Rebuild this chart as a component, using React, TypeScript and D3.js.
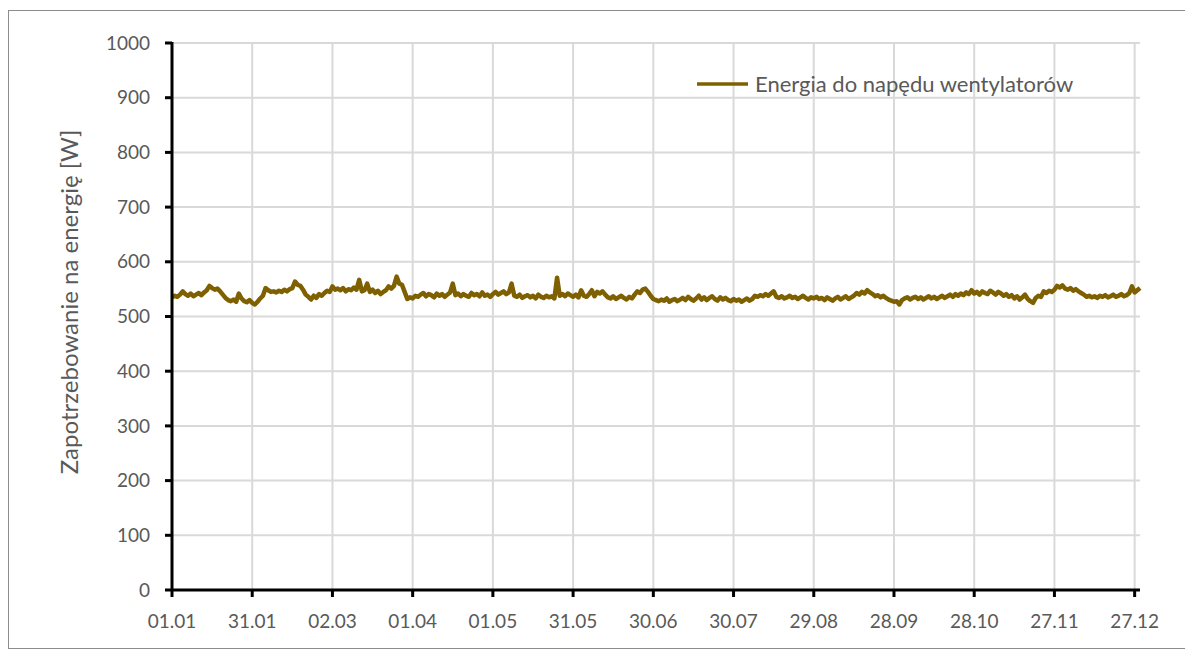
import React from "react";
import * as d3 from "d3";

const seriesName = "Energia do napędu wentylatorów";
const yTitle = "Zapotrzebowanie na energię [W]";
const xTickLabels = ["01.01", "31.01", "02.03", "01.04", "01.05", "31.05", "30.06", "30.07", "29.08", "28.09", "28.10", "27.11", "27.12"];
const xTickStep = 30;
const yTicks = [0, 100, 200, 300, 400, 500, 600, 700, 800, 900, 1000];

// daily fan energy demand [W], 01.01 .. 29.12
const dailyValues = [
  535, 538, 536, 540, 546, 541, 538, 542, 537, 540, 543, 539, 544, 548, 556, 552, 549, 551, 546, 540,
  534, 530, 528, 531, 527, 542, 533, 528, 526, 530, 525, 522, 527, 533, 538, 552, 548, 545, 546, 544,
  547, 545, 549, 546, 550, 552, 564, 558, 556, 549, 540, 536, 531, 538, 534, 541, 538, 543, 547, 545,
  555, 549, 551, 548, 552, 546, 550, 548, 553, 549, 567, 546, 548, 560, 545, 549, 543, 547, 541, 545,
  548, 555, 551, 556, 573, 560, 558, 545, 532, 535, 533, 538, 536, 540, 543, 537, 541, 539, 535, 542,
  538, 541, 536, 540, 544, 560, 539, 542, 537, 541, 538, 536, 543, 539, 541, 537, 544, 538, 540, 536,
  541, 545, 540, 543, 546, 541, 544, 560, 538, 536, 540, 534, 537, 539, 535, 538, 533, 540, 536, 534,
  538, 535, 537, 533, 571, 538, 541, 537, 542, 539, 536, 540, 535, 548, 538, 536, 541, 548, 537, 545,
  542, 546, 540, 535, 533, 537, 532, 535, 538, 534, 531, 536, 533, 540, 546, 543, 549, 551, 545, 538,
  532, 530, 528, 531, 529, 533, 527, 530, 532, 528, 531, 534, 530, 536, 532, 529, 533, 538, 531, 535,
  530, 534, 537, 532, 529, 535, 531, 534, 530, 528, 532, 529, 531, 527, 530, 533, 529, 532, 538, 536,
  539, 537, 541, 538, 542, 546, 536, 534, 537, 533, 535, 538, 534, 536, 532, 535, 538, 534, 531, 535,
  533, 536, 532, 534, 530, 535, 532, 529, 533, 536, 531, 534, 537, 532, 535, 538, 543, 540, 545, 542,
  548, 544, 541, 537, 539, 535, 538, 534, 531, 529, 527, 528, 522, 530, 533, 535, 531, 534, 536, 532,
  535, 531, 534, 537, 533, 536, 532, 535, 538, 534, 537, 540, 536, 541, 538, 542, 539, 544, 541, 548,
  542, 545, 540, 546, 543, 541, 547, 544, 540, 545, 542, 538, 541, 536, 539, 533, 537, 531, 535, 540,
  532, 528, 525, 534, 538, 536, 546, 543, 547, 545, 549, 556, 553, 557, 551, 549, 552, 547, 550, 546,
  543, 540, 536, 538, 535, 537, 534, 538, 536, 539, 535, 537, 540, 536, 538, 541, 537, 539, 543, 555,
  544, 548, 552,
];

const W = 1185;
const H = 653;
const left = 172;
const right = 1140;
const top = 43;
const bottom = 590;
const font = "Lato, 'Open Sans', sans-serif";
const textColor = "#595959";
const gridColor = "#d9d9d9";
const lineColor = "#7f6000";

export default function App() {
  const x = d3.scaleLinear().domain([0, dailyValues.length - 1]).range([left, right]);
  const y = d3.scaleLinear().domain([0, 1000]).range([bottom, top]);
  const line = d3
    .line<number>()
    .x((_, i) => x(i))
    .y((v) => y(v))
    .curve(d3.curveLinear);
  const path = line(dailyValues) || "";

  return (
    <svg width={W} height={H} style={{ position: "absolute", left: 0, top: 0 }}>
      <rect x={0} y={0} width={W} height={H} fill="#fff" />
      <rect x={8.5} y={10.5} width={1190} height={638} fill="#fff" stroke="#8c8c8c" strokeWidth={1} />
      {yTicks.map((t) => (
        <line key={"hg" + t} x1={left} x2={right} y1={y(t)} y2={y(t)} stroke={gridColor} strokeWidth={2} />
      ))}
      {xTickLabels.map((l, i) => (
        <line key={"vg" + l} x1={x(i * xTickStep)} x2={x(i * xTickStep)} y1={top} y2={bottom} stroke={gridColor} strokeWidth={2} />
      ))}
      <path d={path} fill="none" stroke={lineColor} strokeWidth={4.5} strokeLinejoin="round" />
      <line x1={left} x2={left} y1={top - 1} y2={bottom + 1} stroke="#000" strokeWidth={3} />
      <line x1={left - 1} x2={right} y1={bottom} y2={bottom} stroke="#000" strokeWidth={3} />
      {yTicks.map((t) => (
        <g key={"yt" + t}>
          <line x1={left - 7} x2={left} y1={y(t)} y2={y(t)} stroke="#000" strokeWidth={3} />
          <text x={150} y={y(t)} dy="0.35em" textAnchor="end" fontFamily={font} fontSize={19} fill={textColor}>
            {t}
          </text>
        </g>
      ))}
      {xTickLabels.map((l, i) => (
        <g key={"xt" + l}>
          <line x1={x(i * xTickStep)} x2={x(i * xTickStep)} y1={bottom} y2={bottom + 7} stroke="#000" strokeWidth={3} />
          <text x={x(i * xTickStep)} y={621} dy="0.35em" textAnchor="middle" fontFamily={font} fontSize={19} fill={textColor}>
            {l}
          </text>
        </g>
      ))}
      <text
        transform={`translate(70,302) rotate(-90)`}
        textAnchor="middle"
        dy="0.35em"
        fontFamily={font}
        fontSize={24}
        fill={textColor}
      >
        {yTitle}
      </text>
      <line x1={697} x2={748} y1={84} y2={84} stroke={lineColor} strokeWidth={3.5} />
      <text x={755} y={84} dy="0.35em" fontFamily={font} fontSize={22} fill={textColor}>
        {seriesName}
      </text>
    </svg>
  );
}
